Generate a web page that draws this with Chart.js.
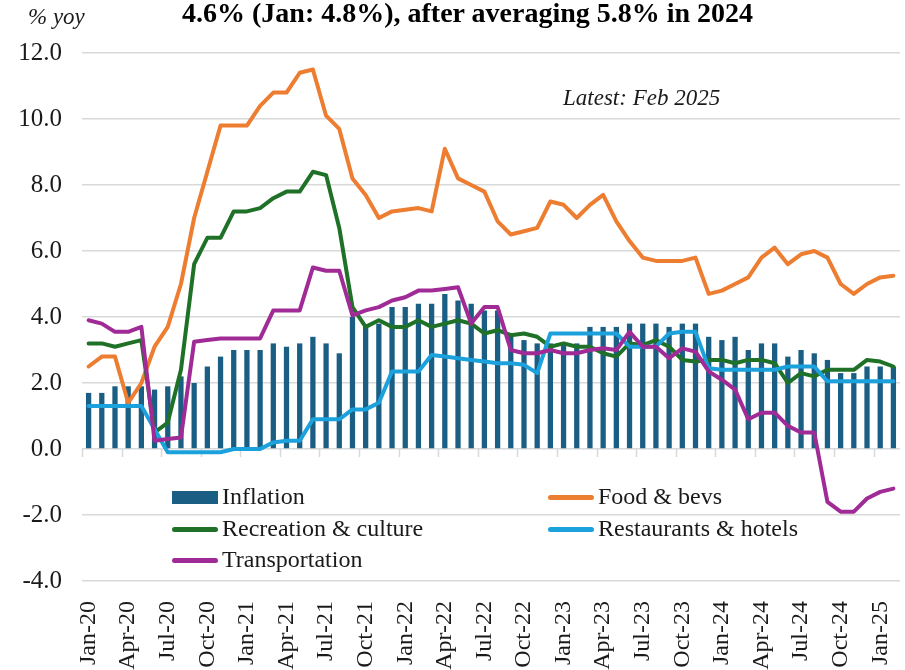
<!DOCTYPE html>
<html>
<head>
<meta charset="utf-8">
<script src="https://cdn.jsdelivr.net/npm/chart.js@4.4.1/dist/chart.umd.min.js"></script>
<style>
  body { margin: 0; background: #fff; }
  #wrap { position: relative; width: 905px; height: 670px; font-family: "Liberation Serif", "Times New Roman", serif; color: #1a1a1a; }
  #c { position: absolute; left: 0; top: 0; }
  .txt { position: absolute; white-space: nowrap; line-height: 1; }
  #title { left: 182px; top: -1px; font-size: 28px; font-weight: bold; color: #000; }
  #unit { left: 28px; top: 5px; font-size: 23px; font-style: italic; }
  #latest { left: 563px; top: 86px; font-size: 23px; font-style: italic; }
  .leg { position: absolute; font-size: 24px; line-height: 1; white-space: nowrap; }
  .sw { position: absolute; }
</style>
</head>
<body>
<div id="wrap">
  <canvas id="c" width="905" height="670"></canvas>
  <div id="title" class="txt">4.6% (Jan: 4.8%), after averaging 5.8% in 2024</div>
  <div id="unit" class="txt">% yoy</div>
  <div id="latest" class="txt">Latest: Feb 2025</div>
  <div id="legend"></div>
</div>
<script>
// Meses (ene-2020 a feb-2025)
const meses = [
  'Jan-20','Feb-20','Mar-20','Apr-20','May-20','Jun-20','Jul-20','Aug-20','Sep-20','Oct-20','Nov-20','Dec-20',
  'Jan-21','Feb-21','Mar-21','Apr-21','May-21','Jun-21','Jul-21','Aug-21','Sep-21','Oct-21','Nov-21','Dec-21',
  'Jan-22','Feb-22','Mar-22','Apr-22','May-22','Jun-22','Jul-22','Aug-22','Sep-22','Oct-22','Nov-22','Dec-22',
  'Jan-23','Feb-23','Mar-23','Apr-23','May-23','Jun-23','Jul-23','Aug-23','Sep-23','Oct-23','Nov-23','Dec-23',
  'Jan-24','Feb-24','Mar-24','Apr-24','May-24','Jun-24','Jul-24','Aug-24','Sep-24','Oct-24','Nov-24','Dec-24',
  'Jan-25','Feb-25'
];

const inflacion = [
  1.7, 1.7, 1.9, 1.9, 1.9, 1.8, 1.9, 2.2, 2.0, 2.5, 2.8, 3.0,
  3.0, 3.0, 3.2, 3.1, 3.2, 3.4, 3.2, 2.9, 4.0, 3.7, 3.8, 4.3,
  4.3, 4.4, 4.4, 4.7, 4.5, 4.4, 4.2, 4.2, 3.5, 3.3, 3.2, 3.2,
  3.2, 3.2, 3.7, 3.7, 3.7, 3.8, 3.8, 3.8, 3.7, 3.8, 3.8, 3.4,
  3.3, 3.4, 3.0, 3.2, 3.2, 2.8, 3.0, 2.9, 2.7, 2.3, 2.3, 2.5,
  2.5, 2.5
];

const alimentos = [
  2.5, 2.8, 2.8, 1.4, 2.0, 3.1, 3.7, 5.0, 7.0, 8.4, 9.8, 9.8,
  9.8, 10.4, 10.8, 10.8, 11.4, 11.5, 10.1, 9.7, 8.2, 7.7, 7.0, 7.2,
  7.25, 7.3, 7.2, 9.1, 8.2, 8.0, 7.8, 6.9, 6.5, 6.6, 6.7, 7.5,
  7.4, 7.0, 7.4, 7.7, 6.9, 6.3, 5.8, 5.7, 5.7, 5.7, 5.8, 4.7,
  4.8, 5.0, 5.2, 5.8, 6.1, 5.6, 5.9, 6.0, 5.8, 5.0, 4.7, 5.0,
  5.2, 5.25
];

const recreacion = [
  3.2, 3.2, 3.1, 3.2, 3.3, 0.5, 0.8, 2.4, 5.6, 6.4, 6.4, 7.2,
  7.2, 7.3, 7.6, 7.8, 7.8, 8.4, 8.3, 6.7, 4.3, 3.7, 3.9, 3.7,
  3.7, 3.9, 3.7, 3.8, 3.9, 3.8, 3.5, 3.6, 3.45, 3.5, 3.4, 3.1,
  3.2, 3.1, 3.1, 2.9, 2.8, 3.2, 3.15, 3.3, 3.1, 2.7, 2.65, 2.7,
  2.7, 2.6, 2.7, 2.7, 2.6, 2.0, 2.3, 2.2, 2.4, 2.4, 2.4, 2.7,
  2.65, 2.5
];

const restaurantes = [
  1.3, 1.3, 1.3, 1.3, 1.3, 0.6, -0.1, -0.1, -0.1, -0.1, -0.1, 0.0,
  0.0, 0.0, 0.2, 0.25, 0.25, 0.9, 0.9, 0.9, 1.2, 1.2, 1.4, 2.35,
  2.35, 2.35, 2.85, 2.8, 2.75, 2.7, 2.65, 2.6, 2.6, 2.55, 2.3, 3.5,
  3.5, 3.5, 3.5, 3.5, 3.5, 3.1, 3.1, 3.1, 3.5, 3.55, 3.55, 2.45,
  2.4, 2.4, 2.4, 2.4, 2.4, 2.5, 2.5, 2.5, 2.05, 2.05, 2.05, 2.05,
  2.05, 2.05
];

const transporte = [
  3.9, 3.8, 3.55, 3.55, 3.7, 0.25, 0.3, 0.35, 3.25, 3.3, 3.35, 3.35,
  3.35, 3.35, 4.2, 4.2, 4.2, 5.5, 5.4, 5.4, 4.05, 4.2, 4.3, 4.5,
  4.6, 4.8, 4.8, 4.85, 4.9, 3.8, 4.3, 4.3, 3.0, 2.9, 2.9, 3.0,
  2.9, 2.9, 3.0, 3.05, 3.0, 3.55, 3.1, 3.1, 2.75, 3.05, 2.95, 2.35,
  2.1, 1.8, 0.9, 1.1, 1.1, 0.7, 0.5, 0.5, -1.6, -1.9, -1.9, -1.5,
  -1.3, -1.2
];

// Marcas del eje Y
const ticksY = [-4, -2, 0, 2, 4, 6, 8, 10, 12];

const colores = {
  inflacion: '#1b5e84',
  alimentos: '#ed7d31',
  recreacion: '#1f7127',
  restaurantes: '#1ba1db',
  transporte: '#a02b96'
};

const gris = '#d9d9d9';
const fuente = '"Liberation Serif", "Times New Roman", serif';

function linea(label, data, color, order) {
  return {
    type: 'line',
    label: label,
    data: data,
    borderColor: color,
    backgroundColor: color,
    borderWidth: 4,
    pointRadius: 0,
    tension: 0,
    borderJoinStyle: 'round',
    borderCapStyle: 'round',
    order: order
  };
}

const datasets = [
  {
    type: 'bar',
    label: 'Inflation',
    data: inflacion,
    backgroundColor: colores.inflacion,
    categoryPercentage: 1.0,
    barPercentage: 0.4,
    order: 10
  },
  linea('Food & bevs', alimentos, colores.alimentos, 4),
  linea('Recreation & culture', recreacion, colores.recreacion, 3),
  linea('Restaurants & hotels', restaurantes, colores.restaurantes, 2),
  linea('Transportation', transporte, colores.transporte, 1)
];

// Pequeñas marcas en la línea de cero cada 3 meses
const marcasCero = {
  id: 'marcasCero',
  beforeDatasetsDraw(chart) {
    const x = chart.scales.x, y = chart.scales.y;
    const ctx = chart.ctx;
    const y0 = y.getPixelForValue(0);
    const paso = x.width / meses.length;
    ctx.save();
    ctx.strokeStyle = gris;
    ctx.lineWidth = 1.5;
    for (let i = 0; i <= meses.length; i += 3) {
      const px = Math.round(x.left + i * paso) + 0.5;
      ctx.beginPath();
      ctx.moveTo(px, y0);
      ctx.lineTo(px, y0 + 8);
      ctx.stroke();
    }
    ctx.restore();
  }
};

const ctx = document.getElementById('c').getContext('2d');
new Chart(ctx, {
  type: 'bar',
  data: { labels: meses, datasets: datasets },
  options: {
    responsive: false,
    animation: false,
    devicePixelRatio: 1,
    layout: { padding: { top: 53, right: 5, left: 0, bottom: 0 } },
    plugins: {
      legend: { display: false },
      tooltip: { enabled: false }
    },
    scales: {
      x: {
        offset: true,
        grid: { display: false },
        border: { display: false },
        ticks: {
          autoSkip: false,
          minRotation: 90,
          maxRotation: 90,
          padding: 12,
          color: '#1a1a1a',
          font: { family: fuente, size: 24 },
          callback: function(v, i) { return i % 3 === 0 ? meses[i] : null; }
        },
        afterFit: function(s) {
          s.height = 89;
          s.paddingLeft = 0;
          s.paddingRight = 0;
        }
      },
      y: {
        min: -4,
        max: 12,
        afterBuildTicks: function(s) { s.ticks = ticksY.map(v => ({ value: v })); },
        grid: { color: gris, lineWidth: 1.5, drawTicks: false },
        border: { display: false },
        ticks: {
          padding: 20,
          color: '#1a1a1a',
          font: { family: fuente, size: 25 },
          callback: function(v) { return v.toFixed(1); }
        },
        afterFit: function(s) { s.width = 82; }
      }
    }
  },
  plugins: [marcasCero]
});

// Leyenda en HTML dentro del área del gráfico
const leyenda = [
  { label: 'Inflation', color: colores.inflacion, tipo: 'caja', x: 172, y: 497 },
  { label: 'Food & bevs', color: colores.alimentos, tipo: 'linea', x: 548, y: 497 },
  { label: 'Recreation & culture', color: colores.recreacion, tipo: 'linea', x: 172, y: 529 },
  { label: 'Restaurants & hotels', color: colores.restaurantes, tipo: 'linea', x: 548, y: 529 },
  { label: 'Transportation', color: colores.transporte, tipo: 'linea', x: 172, y: 560 }
];
const cont = document.getElementById('legend');
leyenda.forEach(item => {
  const sw = document.createElement('div');
  sw.className = 'sw';
  const alto = item.tipo === 'caja' ? 13 : 5;
  sw.style.left = item.x + 'px';
  sw.style.top = (item.y - alto / 2) + 'px';
  sw.style.width = '46px';
  sw.style.height = alto + 'px';
  sw.style.background = item.color;
  if (item.tipo !== 'caja') sw.style.borderRadius = '3px';
  cont.appendChild(sw);
  const t = document.createElement('div');
  t.className = 'leg';
  t.textContent = item.label;
  t.style.left = (item.x + 50) + 'px';
  t.style.top = (item.y - 13) + 'px';
  cont.appendChild(t);
});
</script>
</body>
</html>
